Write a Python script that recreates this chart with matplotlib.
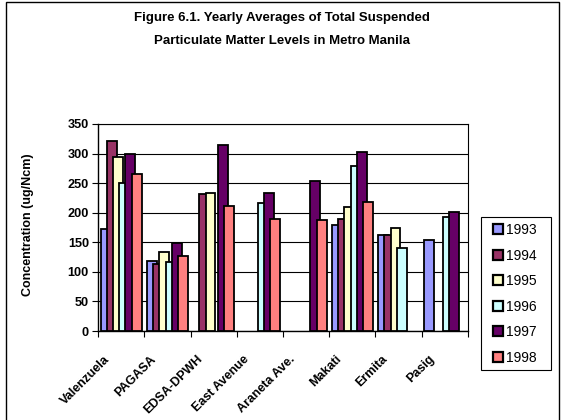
import numpy as np
import matplotlib
matplotlib.use("Agg")
import matplotlib.pyplot as plt
import matplotlib.transforms as mtransforms
from matplotlib.patches import Rectangle

plt.rcParams['font.family'] = ['Liberation Sans', 'DejaVu Sans']

categories = ["Valenzuela", "PAGASA", "EDSA-DPWH", "East Avenue", "Araneta Ave.",
              "Makati", "Ermita", "Pasig"]
years = ["1993", "1994", "1995", "1996", "1997", "1998"]
nan = np.nan
v1993 = [173, 119, nan, nan, nan, 179, 163, 154]
v1994 = [322, 113, 232, nan, nan, 189, 163, nan]
v1995 = [295, 133, 234, nan, nan, 210, 174, nan]
v1996 = [250, 116, nan, 217, nan, 279, 140, 192]
v1997 = [299, 148, 315, 234, 254, 303, nan, 202]
v1998 = [265, 127, 212, 189, 187, 218, nan, nan]
series = [v1993, v1994, v1995, v1996, v1997, v1998]
colors = ["#9999FF", "#993366", "#FFFFCC", "#CCFFFF", "#660066", "#FF8080"]

W, H = 563, 420
fig = plt.figure(figsize=(W / 100, H / 100), dpi=100)
ax = fig.add_axes([98 / W, 1 - 331 / H, (468 - 98) / W, (331 - 124) / H])

bar_w = 0.215
step = 0.134
start = 0.0575
x0 = np.arange(len(categories))
for k, (vals, c, yr) in enumerate(zip(series, colors, years)):
    ax.bar(x0 + start + k * step, vals, width=bar_w, align='edge', color=c,
           edgecolor='black', linewidth=1.3, label=yr, zorder=3 + k)

ax.set_xlim(0, len(categories))
ax.set_ylim(0, 350)
ax.set_yticks(np.arange(0, 351, 50))
ax.yaxis.grid(True, color='black', linewidth=0.8, zorder=0)
ax.set_axisbelow(True)
for s in ax.spines.values():
    s.set_color('black')
    s.set_linewidth(0.8)
ax.spines['left'].set_linewidth(1.0)
ax.spines['bottom'].set_linewidth(1.0)

ax.set_xticks(x0 + 0.5)
ax.set_xticks(np.arange(0, len(categories) + 1), minor=True)
ax.tick_params(axis='x', which='major', length=0, pad=16)
ax.tick_params(axis='x', which='minor', length=4, width=0.8, direction='out')
ax.tick_params(axis='y', length=4, width=0.8, direction='out', pad=2.5)
ax.set_xticklabels(categories, rotation=45, ha='right', va='top',
                   rotation_mode='anchor', fontsize=9, fontweight='bold')
offset = mtransforms.ScaledTranslation(-17 / 100, 0, fig.dpi_scale_trans)
for lab in ax.get_xticklabels():
    lab.set_transform(lab.get_transform() + offset)
for lab in ax.get_yticklabels():
    lab.set_fontsize(9.2)
    lab.set_fontweight('bold')

ax.set_ylabel("Concentration (ug/Ncm)", fontsize=9, fontweight='bold')
ax.yaxis.set_label_coords(34 / W, 1 - 225 / H, transform=fig.transFigure)

fig.text(0.5, 1 - 18 / H, "Figure 6.1. Yearly Averages of Total Suspended",
         ha='center', va='center', fontsize=9.5, fontweight='bold')
fig.text(0.5, 1 - 41 / H, "Particulate Matter Levels in Metro Manila",
         ha='center', va='center', fontsize=9.5, fontweight='bold')

leg = fig.legend(loc='upper left', bbox_to_anchor=(493 / W, 1 - 223 / H),
                 fontsize=10, frameon=False, handlelength=0.72,
                 handleheight=0.72, handletextpad=0.2, labelspacing=0.83,
                 borderpad=0, borderaxespad=0)
for p in leg.get_patches():
    p.set_linewidth(1.6)

fig.patches.append(Rectangle((481 / W, 1 - 370 / H), (551 - 481) / W, (370 - 217) / H,
                             transform=fig.transFigure, fill=False,
                             edgecolor='black', linewidth=0.8))
fig.patches.append(Rectangle((6 / W, -0.05), (559 - 6) / W, 1.05 - 1.5 / H,
                             transform=fig.transFigure, fill=False,
                             edgecolor='black', linewidth=1.0))

fig.savefig("out.png", dpi=100)
